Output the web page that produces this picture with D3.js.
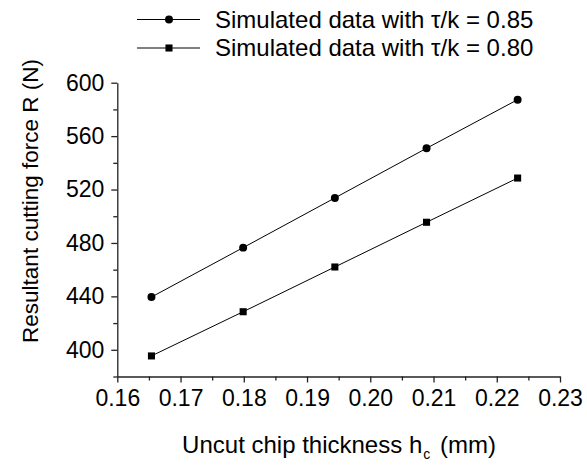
<!DOCTYPE html>
<html>
<head>
<meta charset="utf-8">
<script src="https://cdn.jsdelivr.net/npm/d3@7"></script>
<style>
  body { margin: 0; background: #fff; }
  text { font-family: "Liberation Sans", Arial, sans-serif; fill: #000; }
</style>
</head>
<body>
<div id="root"><svg width="587" height="465"></svg></div>
<script>
// data
const thickness = [0.1654, 0.1799, 0.1944, 0.2089, 0.2233];
const force085 = [439.5, 476.5, 513.7, 550.9, 587.3];
const force080 = [395.4, 428.5, 462.0, 495.5, 528.6];
const seriesNames = ['Simulated data with \u03c4/k = 0.85', 'Simulated data with \u03c4/k = 0.80'];
const xTicks = [0.16, 0.17, 0.18, 0.19, 0.20, 0.21, 0.22, 0.23];
const yTicks = [400, 440, 480, 520, 560, 600];

function drawChart() {
  const left = 117.3;
  const right = 560;
  const top = 82.7;
  const bottom = 376.5;

  const svg = d3.select('#root svg');

  const xScale = d3.scaleLinear().domain([0.16, 0.23]).range([left, right]);
  const yScale = d3.scaleLinear().domain([380, 600]).range([bottom, top]);

  // minor ticks first
  const xMinor = d3.range(0.165, 0.23, 0.01);
  svg.append('g')
    .attr('transform', `translate(0 ${bottom})`)
    .call(d3.axisBottom(xScale).tickValues(xMinor).tickSize(4).tickFormat(''))
    .call((g) => g.select('.domain').remove());
  const yMinor = d3.range(380, 600, 20).filter((v) => v % 40 !== 0);
  svg.append('g')
    .attr('transform', `translate(${left} 0)`)
    .call(d3.axisLeft(yScale).tickValues(yMinor).tickSize(4).tickFormat(''))
    .call((g) => g.select('.domain').remove());

  const xAxis = d3.axisBottom(xScale)
    .tickValues(xTicks)
    .tickSize(6)
    .tickSizeOuter(0)
    .tickPadding(7)
    .tickFormat(d3.format('.2f'));
  svg.append('g')
    .attr('id', 'x_axis_g')
    .attr('transform', `translate(0 ${bottom})`)
    .call(xAxis)
    .call((g) => g.selectAll('text').attr('font-size', '23px').attr('font-family', null));

  const yAxis = d3.axisLeft(yScale)
    .tickValues(yTicks)
    .tickSize(6)
    .tickSizeOuter(0)
    .tickPadding(7);
  svg.append('g')
    .attr('id', 'y_axis_g')
    .attr('transform', `translate(${left} 0)`)
    .call(yAxis)
    .call((g) => g.selectAll('text').attr('font-size', '23px').attr('font-family', null));

  svg.selectAll('.domain, .tick line').attr('stroke', '#222').attr('stroke-width', 1.3);

  const line = d3.line()
    .x((d) => xScale(d[0]))
    .y((d) => yScale(d[1]));

  const series = [force085, force080].map((vals) => thickness.map((t, i) => [t, vals[i]]));

  series.forEach((pts, si) => {
    svg.append('path')
      .datum(pts)
      .attr('d', line)
      .attr('fill', 'none')
      .attr('stroke', '#000')
      .attr('stroke-width', 1);
    const sym = si === 0 ? d3.symbolCircle : d3.symbolSquare;
    svg.selectAll(`path.pt${si}`)
      .data(pts)
      .enter()
      .append('path')
      .attr('class', `pt${si}`)
      .attr('transform', (d) => `translate(${xScale(d[0])} ${yScale(d[1])})`)
      .attr('d', d3.symbol().type(sym).size(50))
      .attr('fill', '#000');
  });

  // legend
  const legendRows = [19.5, 48];
  seriesNames.forEach((name, i) => {
    const g = svg.append('g').attr('transform', `translate(0 ${legendRows[i]})`);
    g.append('line')
      .attr('x1', 137).attr('x2', 200)
      .attr('stroke', '#000').attr('stroke-width', 1);
    g.append('path')
      .attr('transform', 'translate(169 0)')
      .attr('d', d3.symbol().type(i === 0 ? d3.symbolCircle : d3.symbolSquare).size(50))
      .attr('fill', '#000');
    g.append('text')
      .attr('x', 215)
      .attr('dy', '0.35em')
      .attr('font-size', '24px')
      .text(name);
  });

  // axis titles
  const xTitle = svg.append('text')
    .attr('x', 339)
    .attr('y', 453)
    .attr('text-anchor', 'middle')
    .attr('font-size', '24px');
  xTitle.append('tspan').text('Uncut chip thickness h');
  xTitle.append('tspan').attr('font-size', '14px').attr('dx', 1).attr('dy', 6).text('c');
  xTitle.append('tspan').attr('dx', 3).attr('dy', -6).text(' (mm)');

  svg.append('text')
    .attr('transform', 'translate(38 201) rotate(-90)')
    .attr('text-anchor', 'middle')
    .attr('font-size', '22.5px')
    .text('Resultant cutting force R (N)');
}

window.addEventListener('load', function() {
  drawChart();
});
</script>
</body>
</html>
